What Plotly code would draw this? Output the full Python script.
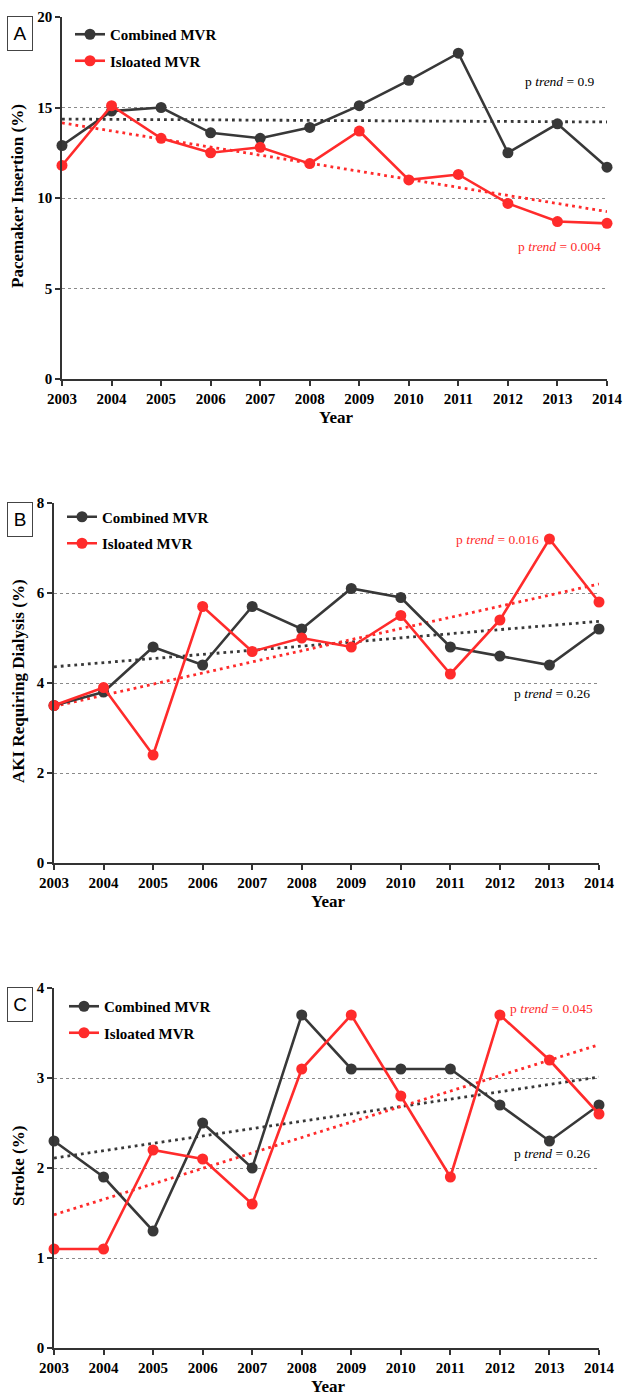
import plotly.graph_objects as go

years = [2003, 2004, 2005, 2006, 2007, 2008, 2009, 2010, 2011, 2012, 2013, 2014]

# Panel A: Pacemaker insertion (%)
pace_combined = [12.9, 14.8, 15.0, 13.6, 13.3, 13.9, 15.1, 16.5, 18.0, 12.5, 14.1, 11.7]
pace_isolated = [11.8, 15.1, 13.3, 12.5, 12.8, 11.9, 13.7, 11.0, 11.3, 9.7, 8.7, 8.6]
pace_trend_combined = [14.36, 14.20]
pace_trend_isolated = [14.15, 9.25]

# Panel B: AKI requiring dialysis (%)
aki_combined = [3.5, 3.8, 4.8, 4.4, 5.7, 5.2, 6.1, 5.9, 4.8, 4.6, 4.4, 5.2]
aki_isolated = [3.5, 3.9, 2.4, 5.7, 4.7, 5.0, 4.8, 5.5, 4.2, 5.4, 7.2, 5.8]
aki_trend_combined = [4.36, 5.37]
aki_trend_isolated = [3.48, 6.20]

# Panel C: Stroke (%)
stroke_combined = [2.3, 1.9, 1.3, 2.5, 2.0, 3.7, 3.1, 3.1, 3.1, 2.7, 2.3, 2.7]
stroke_isolated = [1.1, 1.1, 2.2, 2.1, 1.6, 3.1, 3.7, 2.8, 1.9, 3.7, 3.2, 2.6]
stroke_trend_combined = [2.11, 3.01]
stroke_trend_isolated = [1.48, 3.37]

trend_x = [2003, 2014]
series_names = ["Combined MVR", "Isloated MVR"]
panel_labels = ["A", "B", "C"]
y_titles = ["Pacemaker Insertion (%)", "AKI Requiring Dialysis (%)", "Stroke (%)"]
y_ranges = [[0, 20], [0, 8], [0, 4]]
y_ticks = [[0, 5, 10, 15, 20], [0, 2, 4, 6, 8], [0, 1, 2, 3, 4]]
p_labels = [["p <i>trend</i> = 0.9", "p <i>trend</i> = 0.004"],
            ["p <i>trend</i> = 0.26", "p <i>trend</i> = 0.016"],
            ["p <i>trend</i> = 0.26", "p <i>trend</i> = 0.045"]]
# label anchor positions (data coords): [combined(x,y), isolated(x,y)]
p_pos = [[(2012.30, 16.46), (2012.16, 7.31)],
         [(2012.24, 3.77), (2011.08, 7.18)],
         [(2012.24, 2.156), (2012.16, 3.775)]]

BLACK = "#383838"
RED = "#ff2b2b"
SERIF = "Liberation Serif, Times New Roman, serif"
W, H = 625, 1396

panels = [
    (pace_combined, pace_isolated, pace_trend_combined, pace_trend_isolated),
    (aki_combined, aki_isolated, aki_trend_combined, aki_trend_isolated),
    (stroke_combined, stroke_isolated, stroke_trend_combined, stroke_trend_isolated),
]

# pixel geometry of plot areas: (left, right, top, bottom)
boxes = [(62, 607, 17, 379), (54, 599, 503, 863), (54, 599, 988, 1348)]
legend_pos = [(70, 18), (62, 500.5), (64, 990)]

fig = go.Figure()
legend_keys = ["legend", "legend2", "legend3"]

for i, (comb, iso, tcomb, tiso) in enumerate(panels):
    sfx = "" if i == 0 else str(i + 1)
    xa, ya = "x" + sfx, "y" + sfx
    lg = legend_keys[i]
    fig.add_trace(go.Scatter(x=trend_x, y=tcomb, mode="lines", xaxis=xa, yaxis=ya,
                             line=dict(color=BLACK, width=2.8, dash="2.8px,4px"),
                             showlegend=False, cliponaxis=False, hoverinfo="skip"))
    fig.add_trace(go.Scatter(x=trend_x, y=tiso, mode="lines", xaxis=xa, yaxis=ya,
                             line=dict(color=RED, width=2.8, dash="2.8px,4px"),
                             showlegend=False, cliponaxis=False, hoverinfo="skip"))
    fig.add_trace(go.Scatter(x=years, y=comb, mode="lines+markers", xaxis=xa, yaxis=ya,
                             name=series_names[0], legend=lg, legendgroup=f"c{i}",
                             line=dict(color=BLACK, width=2.6),
                             marker=dict(color=BLACK, size=11),
                             cliponaxis=False))
    fig.add_trace(go.Scatter(x=years, y=iso, mode="lines+markers", xaxis=xa, yaxis=ya,
                             name=series_names[1], legend=lg, legendgroup=f"i{i}",
                             line=dict(color=RED, width=2.6),
                             marker=dict(color=RED, size=11),
                             cliponaxis=False))

layout = dict(
    width=W, height=H,
    margin=dict(l=0, r=0, t=0, b=0, autoexpand=False),
    plot_bgcolor="white", paper_bgcolor="white",
    showlegend=True,
    font=dict(family=SERIF, color="black"),
)

annotations = []
for i in range(3):
    sfx = "" if i == 0 else str(i + 1)
    l, r, t, b = boxes[i]
    layout["xaxis" + sfx] = dict(
        domain=[l / W, r / W], anchor="y" + sfx, range=[2003, 2014],
        tickvals=years, showline=True, linecolor="#333", linewidth=1.5,
        ticks="outside", ticklen=5, tickcolor="#333", tickwidth=1.5,
        showgrid=False, zeroline=False, automargin=False,
        tickfont=dict(family=SERIF, size=15, color="black", weight="bold"),
    )
    layout["yaxis" + sfx] = dict(
        domain=[1 - b / H, 1 - t / H], anchor="x" + sfx, range=y_ranges[i],
        tickvals=y_ticks[i], showline=True, linecolor="#333", linewidth=1.5,
        ticks="outside", ticklen=5, tickcolor="#333", tickwidth=1.5,
        showgrid=True, gridcolor="#8a8a8a", gridwidth=1, griddash="dot",
        zeroline=False, automargin=False,
        tickfont=dict(family=SERIF, size=15, color="black", weight="bold"),
    )
    lx, ly = legend_pos[i]
    layout[legend_keys[i]] = dict(
        x=lx / W, y=1 - ly / H, xanchor="left", yanchor="top",
        bgcolor="rgba(0,0,0,0)", traceorder="grouped", tracegroupgap=4,
        font=dict(family=SERIF, size=15, color="black", weight="bold"),
        itemwidth=30,
    )
    # panel label box
    annotations.append(dict(
        text=panel_labels[i], xref="paper", yref="paper",
        x=20 / W, y=1 - (t + 16.5) / H, xanchor="center", yanchor="middle",
        showarrow=False, width=22, height=31, bordercolor="#444", borderwidth=1,
        font=dict(family="Liberation Sans, Arial, sans-serif", size=19, color="black"),
    ))
    # y title
    annotations.append(dict(
        text=y_titles[i], xref="paper", yref="paper", textangle=-90,
        x=18 / W, y=1 - ((t + b) / 2 - 2) / H, xanchor="center", yanchor="middle",
        showarrow=False,
        font=dict(family=SERIF, size=17, color="black", weight="bold"),
    ))
    # x title
    annotations.append(dict(
        text="Year", xref="paper", yref="paper",
        x=((l + r) / 2 + 1) / W, y=1 - (b + 38) / H, xanchor="center", yanchor="middle",
        showarrow=False,
        font=dict(family=SERIF, size=17, color="black", weight="bold"),
    ))
    # p trend labels
    for j, col in enumerate([BLACK, RED]):
        px_, py_ = p_pos[i][j]
        annotations.append(dict(
            text=p_labels[i][j], xref="x" + sfx, yref="y" + sfx,
            x=px_, y=py_, xanchor="left", yanchor="middle", showarrow=False,
            font=dict(family=SERIF, size=13.5, color="black" if j == 0 else RED),
        ))

layout["annotations"] = annotations
fig.update_layout(**layout)
fig.write_html("out.html",
               config={"displayModeBar": False},
               post_script="document.body.style.margin='0px';document.body.style.overflow='hidden';")
